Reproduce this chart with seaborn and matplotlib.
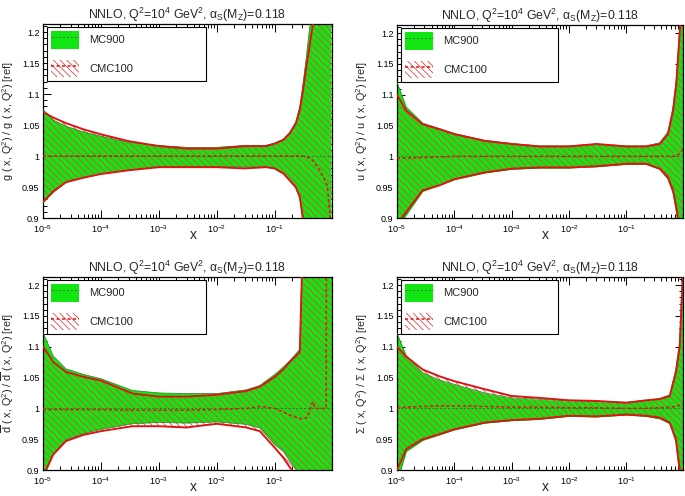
import numpy as np
import pandas as pd
import matplotlib
matplotlib.use("Agg")
import matplotlib.pyplot as plt
import seaborn as sns
from matplotlib.patches import Patch
from matplotlib.lines import Line2D
from matplotlib.legend_handler import HandlerTuple
from matplotlib.ticker import LogLocator, MultipleLocator, NullFormatter

# ---------------- data ----------------
TITLE = r'NNLO, Q$^{2}$=10$^{4}$ GeV$^{2}$, α$_{\mathrm{S}}$(M$_{\mathrm{Z}}$)=0.118'
LABEL_MC = "MC900"
LABEL_CMC = "CMC100"

# gluon
x_g = [1e-5, 1.5e-5, 2.5e-5, 5e-5, 1e-4, 3e-4, 1e-3, 3e-3, 1e-2, 3e-2, 7e-2, 0.1, 0.14, 0.18, 0.23, 0.27, 0.3, 0.35, 0.45, 0.6, 0.8, 0.95]
g_cmc_up = [1.071, 1.062, 1.053, 1.043, 1.035, 1.024, 1.016, 1.012, 1.012, 1.016, 1.016, 1.02, 1.026, 1.036, 1.052, 1.074, 1.1, 1.144, 1.21, 1.3, 1.4, 1.5]
g_mc_up = [1.075, 1.058, 1.048, 1.039, 1.032, 1.022, 1.017, 1.014, 1.014, 1.017, 1.017, 1.021, 1.027, 1.038, 1.055, 1.08, 1.11, 1.16, 1.25, 1.35, 1.5, 1.6]
g_cmc_lo = [0.926, 0.943, 0.958, 0.965, 0.971, 0.977, 0.982, 0.982, 0.982, 0.98, 0.982, 0.98, 0.972, 0.961, 0.95, 0.934, 0.905, 0.85, 0.8, 0.75, 0.7, 0.65]
g_mc_lo = [0.924, 0.941, 0.957, 0.965, 0.971, 0.977, 0.983, 0.983, 0.983, 0.982, 0.983, 0.979, 0.971, 0.96, 0.948, 0.932, 0.9, 0.85, 0.8, 0.75, 0.7, 0.65]
g_cmc_c = [1.0, 1.0, 1.0, 1.0, 1.0, 1.0, 1.0, 1.0, 1.0, 1.0, 1.0, 1.0, 1.0, 1.0, 1.0, 1.0, 1.0, 0.999, 0.993, 0.977, 0.953, 0.88]

# up quark
x_u = [1e-5, 1.45e-5, 2.8e-5, 5.5e-5, 1e-4, 3.4e-4, 1e-3, 3e-3, 1e-2, 3e-2, 0.1, 0.22, 0.38, 0.53, 0.65, 0.74, 0.85, 0.97]
u_cmc_up = [1.1, 1.074, 1.052, 1.044, 1.036, 1.025, 1.02, 1.016, 1.016, 1.02, 1.016, 1.016, 1.02, 1.036, 1.074, 1.117, 1.2, 1.3]
u_mc_up = [1.12, 1.08, 1.054, 1.045, 1.037, 1.026, 1.021, 1.017, 1.017, 1.02, 1.017, 1.017, 1.022, 1.04, 1.08, 1.125, 1.21, 1.3]
u_cmc_lo = [0.89, 0.91, 0.945, 0.953, 0.963, 0.974, 0.98, 0.982, 0.982, 0.984, 0.988, 0.988, 0.98, 0.966, 0.945, 0.918, 0.88, 0.8]
u_mc_lo = [0.88, 0.905, 0.943, 0.953, 0.962, 0.973, 0.979, 0.981, 0.981, 0.983, 0.987, 0.987, 0.979, 0.963, 0.94, 0.91, 0.87, 0.8]
u_cmc_c = [0.997, 0.997, 0.998, 0.999, 1.0, 1.0, 1.0, 1.0, 1.0, 1.0, 1.0, 1.0, 1.0, 1.0, 1.0, 1.0, 1.005, 1.012]

# anti-down quark
x_d = [1e-5, 1.5e-5, 2.5e-5, 5e-5, 1e-4, 3.5e-4, 1e-3, 3e-3, 1e-2, 3.2e-2, 5.5e-2, 0.1, 0.14, 0.18, 0.22, 0.27, 0.29, 0.32, 0.37, 0.45, 0.51, 0.6, 0.72, 0.77, 0.78, 0.97]
d_cmc_up = [1.101, 1.075, 1.059, 1.051, 1.045, 1.024, 1.019, 1.019, 1.022, 1.028, 1.035, 1.051, 1.063, 1.075, 1.083, 1.091, 1.2, 1.3, 1.35, 1.4, 1.45, 1.5, 1.55, 1.6, 1.6, 1.6]
d_mc_up = [1.123, 1.085, 1.064, 1.055, 1.048, 1.029, 1.025, 1.024, 1.024, 1.03, 1.037, 1.055, 1.067, 1.077, 1.086, 1.096, 1.21, 1.3, 1.35, 1.4, 1.45, 1.5, 1.55, 1.6, 1.6, 1.6]
d_cmc_lo = [0.89, 0.925, 0.947, 0.957, 0.963, 0.971, 0.971, 0.969, 0.975, 0.969, 0.963, 0.936, 0.92, 0.905, 0.893, 0.86, 0.84, 0.82, 0.8, 0.78, 0.76, 0.74, 0.72, 0.7, 0.7, 0.7]
d_mc_lo = [0.885, 0.925, 0.949, 0.959, 0.966, 0.975, 0.977, 0.976, 0.978, 0.974, 0.968, 0.941, 0.93, 0.915, 0.905, 0.89, 0.87, 0.85, 0.83, 0.8, 0.78, 0.76, 0.74, 0.72, 0.72, 0.72]
d_cmc_c = [0.998, 0.998, 0.998, 0.998, 0.998, 0.997, 0.997, 0.997, 0.998, 1.0, 1.003, 1.0, 0.994, 0.989, 0.986, 0.984, 0.983, 0.983, 0.986, 1.011, 1.0, 1.0, 1.0, 1.0, 1.5, 1.5]

# singlet
x_s = [1e-5, 1.45e-5, 2.8e-5, 5.5e-5, 1e-4, 3.4e-4, 1e-3, 3e-3, 1e-2, 3e-2, 0.1, 0.22, 0.38, 0.57, 0.73, 0.85, 0.97]
s_cmc_up = [1.1, 1.084, 1.063, 1.052, 1.044, 1.031, 1.02, 1.017, 1.013, 1.012, 1.009, 1.013, 1.015, 1.02, 1.058, 1.1, 1.22]
s_mc_up = [1.122, 1.085, 1.058, 1.046, 1.039, 1.025, 1.017, 1.015, 1.012, 1.011, 1.01, 1.013, 1.016, 1.022, 1.065, 1.11, 1.25]
s_cmc_lo = [0.9, 0.934, 0.95, 0.958, 0.966, 0.977, 0.981, 0.983, 0.988, 0.987, 0.99, 0.988, 0.985, 0.977, 0.95, 0.9, 0.8]
s_mc_lo = [0.88, 0.93, 0.948, 0.957, 0.965, 0.976, 0.98, 0.982, 0.987, 0.986, 0.989, 0.987, 0.983, 0.975, 0.945, 0.89, 0.8]
s_cmc_c = [1.0, 1.002, 1.003, 1.004, 1.004, 1.003, 1.002, 1.002, 1.001, 1.001, 1.0, 1.0, 1.001, 1.002, 1.003, 1.005, 1.007]

ylabels = [
    r'g ( x, Q$^{2}$) / g ( x, Q$^{2}$) [ref]',
    r'u ( x, Q$^{2}$) / u ( x, Q$^{2}$) [ref]',
    r'$\overline{\mathrm{d}}$ ( x, Q$^{2}$) / $\overline{\mathrm{d}}$ ( x, Q$^{2}$) [ref]',
    r'Σ ( x, Q$^{2}$) / Σ ( x, Q$^{2}$) [ref]',
]

panels = [
    (x_g, g_mc_up, g_mc_lo, g_cmc_up, g_cmc_lo, g_cmc_c),
    (x_u, u_mc_up, u_mc_lo, u_cmc_up, u_cmc_lo, u_cmc_c),
    (x_d, d_mc_up, d_mc_lo, d_cmc_up, d_cmc_lo, d_cmc_c),
    (x_s, s_mc_up, s_mc_lo, s_cmc_up, s_cmc_lo, s_cmc_c),
]

# ---------------- style ----------------
sns.set_theme(style="ticks")
plt.rcParams["font.family"] = ["Liberation Sans", "DejaVu Sans"]
plt.rcParams["mathtext.fontset"] = "custom"
plt.rcParams["mathtext.rm"] = "Liberation Sans"
plt.rcParams["mathtext.it"] = "Liberation Sans:italic"
plt.rcParams["mathtext.bf"] = "Liberation Sans:bold"
plt.rcParams["hatch.linewidth"] = 0.6
plt.rcParams["axes.linewidth"] = 0.9

GREEN = "#12e612"
GREEN_DARK = "#2a7a2a"
RED = "#dd1515"
HATCH_RED = "#e84545"
HATCH = "\\" * 5

fig = plt.figure(figsize=(6.85, 4.96), dpi=100)
W, H = 685.0, 496.0
boxes = [(43, 24, 332, 218), (397, 25, 683, 218), (43, 277, 332, 470), (397, 277, 683, 470)]

for i, (box, pdata) in enumerate(zip(boxes, panels)):
    l, t, r, b = box
    ax = fig.add_axes([l / W, 1 - b / H, (r - l) / W, (b - t) / H])
    ax.set_xscale("log")
    xs, mc_up, mc_lo, cmc_up, cmc_lo, cmc_c = pdata
    df = pd.DataFrame({"x": xs, "mc_up": mc_up, "mc_lo": mc_lo,
                       "cmc_up": cmc_up, "cmc_lo": cmc_lo, "cmc_c": cmc_c,
                       "mc_c": [1.0] * len(xs)})

    ax.fill_between(df["x"], df["mc_lo"], df["mc_up"], color=GREEN, lw=0, zorder=1)
    ax.fill_between(df["x"], df["cmc_lo"], df["cmc_up"], facecolor="none",
                    edgecolor=HATCH_RED, hatch=HATCH, lw=0, zorder=2)
    sns.lineplot(data=df, x="x", y="mc_up", ax=ax, color=GREEN_DARK, lw=0.5,
                 estimator=None, sort=False, zorder=3)
    sns.lineplot(data=df, x="x", y="mc_lo", ax=ax, color=GREEN_DARK, lw=0.5,
                 estimator=None, sort=False, zorder=3)
    sns.lineplot(data=df, x="x", y="cmc_up", ax=ax, color=RED, lw=1.4,
                 estimator=None, sort=False, zorder=4)
    sns.lineplot(data=df, x="x", y="cmc_lo", ax=ax, color=RED, lw=1.4,
                 estimator=None, sort=False, zorder=4)
    sns.lineplot(data=df, x="x", y="mc_c", ax=ax, color=GREEN_DARK, lw=0.7,
                 linestyle=(0, (2, 2)), estimator=None, sort=False, zorder=5)
    sns.lineplot(data=df, x="x", y="cmc_c", ax=ax, color=RED, lw=1.1,
                 linestyle=(0, (2, 1.6)), estimator=None, sort=False, zorder=6)

    ax.set_ylim(0.9, 1.213)
    ax.yaxis.set_minor_locator(MultipleLocator(0.01))
    ax.set_yticks([0.9, 0.95, 1.0, 1.05, 1.1, 1.15, 1.2])
    ax.set_yticklabels(["0.9", "0.95", "1", "1.05", "1.1", "1.15", "1.2"])
    ax.xaxis.set_minor_locator(LogLocator(base=10, subs=np.arange(2, 10), numticks=20))
    ax.xaxis.set_minor_formatter(NullFormatter())
    ax.set_xticks([1e-5, 1e-4, 1e-3, 1e-2, 1e-1])
    ax.set_xticklabels([r"10$^{-5}$", r"10$^{-4}$", r"10$^{-3}$", r"10$^{-2}$", r"10$^{-1}$"])
    ax.set_xlim(1e-5, 0.97)
    ax.tick_params(which="both", direction="in", top=True, right=True,
                   labelsize=6.5, colors="black", width=0.7)
    ax.tick_params(which="major", length=6)
    ax.tick_params(axis="x", which="major", pad=3.5)
    ax.tick_params(axis="y", which="major", pad=2.5)
    ax.tick_params(which="minor", length=3)
    for s in ax.spines.values():
        s.set_color("black")
        s.set_linewidth(0.9)

    ax.set_title(TITLE, fontsize=8.8, pad=3.5)
    ax.set_xlabel("x", fontsize=10)
    ax.xaxis.set_label_coords(0.52, -0.05)
    ax.xaxis.label.set_verticalalignment("top")
    ax.set_ylabel(ylabels[i], fontsize=7.8)
    ax.yaxis.set_label_coords(-0.095, 0.5)

    handles = [
        (Patch(facecolor=GREEN, edgecolor="none"),
         Line2D([], [], color=GREEN_DARK, lw=0.7, linestyle=(0, (2, 2)))),
        (Patch(facecolor="white", edgecolor=HATCH_RED, hatch=HATCH, lw=0),
         Line2D([], [], color=RED, lw=1.1, linestyle=(0, (2, 1.6)))),
    ]
    leg = ax.legend(handles, [LABEL_MC, LABEL_CMC], handler_map={tuple: HandlerTuple(ndivide=1, pad=0)},
                    loc="upper left", bbox_to_anchor=(0.014, 0.985, 0.55, 0.0), mode="expand",
                    fontsize=8, handlelength=2.5, handleheight=2.0, labelspacing=1.0,
                    borderpad=0.4, handletextpad=0.9, borderaxespad=0.0,
                    fancybox=False, framealpha=1.0, edgecolor="black")
    leg.get_frame().set_linewidth(0.8)
    leg.set_zorder(10)

fig.savefig("out.png", dpi=100)
